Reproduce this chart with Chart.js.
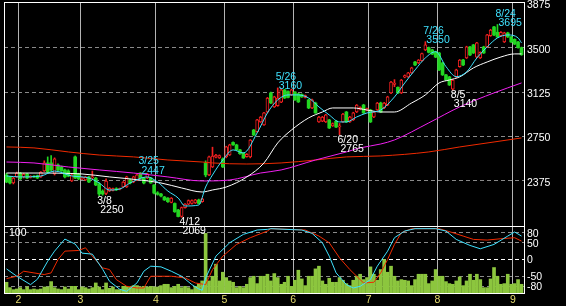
<!DOCTYPE html>
<html>
<head>
<meta charset="utf-8">
<script src="https://cdn.jsdelivr.net/npm/chart.js@4.4.1/dist/chart.umd.min.js"></script>
<style>
  html, body { margin: 0; padding: 0; background: #000; }
  #wrap { position: relative; width: 566px; height: 306px; overflow: hidden; background: #000; }
  #priceChart { position: absolute; left: 0; top: 0; z-index: 2; }
  #oscChart { position: absolute; left: 0; top: 226px; z-index: 1; }
</style>
</head>
<body>
<div id="wrap">
  <canvas id="priceChart" width="566" height="240"></canvas>
  <canvas id="oscChart" width="566" height="80"></canvas>
</div>
<script>
// month labels and the trading-day index where each month starts
const months = ['2', '3', '4', '5', '6', '7', '8', '9'];
const monthStart = [4, 22, 44, 64, 84, 106, 126, 148];
const priceTicks = [2375, 2750, 3125, 3500, 3875];
const oscTicks = [80, 50, 0, -50, -80];

// daily candles [open, high, low, close]
const candles = [
  [2426, 2440, 2360, 2366], [2409, 2415, 2350, 2358], [2358, 2405, 2350, 2400], [2409, 2450, 2405, 2442],
  [2442, 2448, 2388, 2392], [2409, 2440, 2400, 2434], [2434, 2440, 2395, 2400], [2405, 2420, 2400, 2415],
  [2415, 2420, 2405, 2410], [2420, 2425, 2395, 2400], [2409, 2455, 2405, 2451], [2459, 2545, 2455, 2527],
  [2527, 2578, 2440, 2451], [2527, 2590, 2460, 2468], [2434, 2570, 2425, 2561], [2510, 2520, 2460, 2468],
  [2493, 2500, 2455, 2459], [2468, 2475, 2400, 2409], [2460, 2470, 2410, 2415], [2375, 2430, 2370, 2426],
  [2578, 2586, 2395, 2400], [2434, 2440, 2385, 2392], [2392, 2410, 2385, 2405], [2383, 2415, 2378, 2409],
  [2409, 2415, 2360, 2366], [2400, 2459, 2392, 2410], [2400, 2405, 2335, 2341], [2350, 2360, 2250, 2265],
  [2290, 2300, 2255, 2265], [2270, 2392, 2260, 2375], [2290, 2320, 2285, 2316], [2295, 2315, 2290, 2310],
  [2310, 2318, 2295, 2300], [2305, 2315, 2300, 2310], [2324, 2370, 2320, 2366], [2324, 2415, 2320, 2409],
  [2383, 2390, 2350, 2358], [2366, 2415, 2360, 2409], [2383, 2430, 2378, 2426], [2442, 2447, 2395, 2400],
  [2400, 2405, 2350, 2358], [2400, 2440, 2395, 2435], [2400, 2405, 2355, 2358], [2341, 2345, 2265, 2273],
  [2275, 2285, 2255, 2262], [2265, 2270, 2240, 2248], [2240, 2245, 2210, 2215], [2230, 2235, 2195, 2200],
  [2195, 2235, 2190, 2231], [2185, 2190, 2110, 2115], [2130, 2135, 2072, 2075], [2075, 2155, 2069, 2150],
  [2150, 2185, 2145, 2180], [2180, 2215, 2175, 2210], [2185, 2215, 2180, 2210], [2190, 2220, 2185, 2215],
  [2215, 2222, 2180, 2185], [2200, 2230, 2195, 2225], [2527, 2545, 2410, 2426], [2426, 2585, 2420, 2578],
  [2493, 2660, 2488, 2586], [2575, 2600, 2570, 2594], [2570, 2595, 2565, 2590], [2561, 2570, 2488, 2493],
  [2578, 2668, 2570, 2662], [2594, 2685, 2590, 2679], [2700, 2705, 2675, 2680], [2679, 2685, 2632, 2637],
  [2637, 2642, 2600, 2605], [2611, 2615, 2565, 2569], [2580, 2605, 2575, 2600], [2578, 2725, 2570, 2721],
  [2805, 2810, 2758, 2763], [2790, 2895, 2785, 2890], [2873, 2920, 2868, 2915], [2848, 2955, 2843, 2949],
  [2957, 3080, 2950, 3075], [3118, 3125, 3028, 3033], [3000, 3090, 2995, 3084], [3010, 3160, 3005, 3075],
  [3040, 3150, 3035, 3143], [3143, 3148, 3070, 3075], [3130, 3135, 3075, 3080], [3100, 3150, 3095, 3143],
  [3126, 3130, 3055, 3059], [3110, 3115, 3037, 3042], [3105, 3110, 3080, 3084], [3080, 3100, 3075, 3095],
  [3059, 3065, 2985, 2991], [2991, 3065, 2985, 3059], [3033, 3040, 2945, 2949], [2873, 2920, 2868, 2915],
  [2880, 2920, 2875, 2915], [2873, 2937, 2868, 2932], [2890, 2895, 2817, 2822], [2840, 2865, 2835, 2860],
  [2880, 2885, 2825, 2830], [2830, 2860, 2765, 2840], [2873, 2945, 2868, 2940], [2957, 2962, 2868, 2873],
  [2873, 2920, 2868, 2915], [2890, 2955, 2885, 2949], [2957, 3020, 2952, 3016], [2980, 3000, 2975, 2995],
  [3016, 3022, 2944, 2949], [2970, 2990, 2965, 2985], [2974, 2980, 2868, 2873], [2915, 2962, 2910, 2957],
  [2974, 3038, 2970, 3033], [3033, 3040, 2952, 2957], [2991, 3038, 2986, 3033], [3016, 3090, 3010, 3084],
  [3118, 3215, 3112, 3210], [3190, 3230, 3170, 3200], [3165, 3170, 3112, 3118], [3118, 3232, 3112, 3227],
  [3250, 3270, 3245, 3265], [3253, 3292, 3248, 3287], [3287, 3335, 3282, 3329], [3379, 3385, 3348, 3354],
  [3370, 3400, 3365, 3396], [3390, 3455, 3385, 3450], [3480, 3550, 3475, 3523], [3500, 3505, 3455, 3460],
  [3481, 3486, 3440, 3445], [3465, 3470, 3415, 3420], [3455, 3460, 3305, 3312], [3371, 3376, 3265, 3270],
  [3270, 3275, 3222, 3227], [3253, 3258, 3180, 3185], [3150, 3232, 3140, 3227], [3253, 3318, 3248, 3312],
  [3340, 3400, 3335, 3396], [3396, 3402, 3348, 3354], [3413, 3512, 3408, 3506], [3506, 3512, 3432, 3438],
  [3523, 3528, 3450, 3455], [3420, 3545, 3415, 3540], [3413, 3465, 3408, 3460], [3506, 3512, 3450, 3455],
  [3506, 3612, 3500, 3607], [3600, 3655, 3595, 3649], [3675, 3680, 3600, 3607], [3630, 3695, 3585, 3590],
  [3600, 3635, 3595, 3630], [3548, 3630, 3543, 3624], [3624, 3630, 3585, 3590], [3590, 3595, 3543, 3548],
  [3570, 3575, 3525, 3530], [3548, 3553, 3495, 3500], [3500, 3505, 3435, 3440]
];

const volumes = [
  16, 8, 5, 6, 8, 5, 9, 5, 6, 5,
  6, 9, 9, 17, 8, 6, 5, 9, 6, 10,
  10, 5, 9, 8, 6, 8, 15, 9, 5, 15,
  7, 9, 5, 5, 10, 10, 9, 11, 11, 9,
  10, 9, 10, 9, 9, 11, 13, 13, 8, 10,
  13, 8, 10, 8, 5, 10, 14, 18, 89, 18,
  25, 43, 18, 31, 23, 18, 16, 8, 10, 8,
  13, 23, 25, 14, 25, 25, 28, 18, 29, 23,
  13, 16, 25, 10, 19, 34, 21, 11, 25, 25,
  36, 40, 18, 13, 22, 16, 16, 23, 19, 14,
  11, 19, 25, 28, 20, 23, 39, 28, 19, 35,
  50, 31, 40, 25, 18, 20, 19, 18, 11, 20,
  28, 28, 28, 14, 18, 35, 25, 25, 17, 14,
  13, 18, 24, 11, 18, 28, 19, 28, 20, 8,
  8, 21, 38, 25, 13, 14, 28, 13, 14, 20, 13
];

// moving averages as [day index, price]
const maShort = [[0,2417],[4,2409],[10,2417],[14,2459],[19,2417],[22,2409],[24,2400],[27,2358],[30,2299],[33,2307],
  [36,2358],[41,2409],[44,2366],[47,2290],[50,2231],[52,2164],[56,2172],[58,2324],[60,2426],[63,2552],[66,2637],
  [69,2611],[73,2780],[76,2949],[79,3059],[82,3101],[85,3101],[88,3075],[91,3000],[94,2932],[97,2873],[99,2873],
  [102,2915],[105,2949],[109,2974],[113,3084],[116,3202],[119,3312],[122,3413],[125,3466],[128,3340],[131,3255],
  [134,3295],[137,3413],[140,3506],[143,3582],[146,3607],[149,3582],[150,3540]];
const maMid = [[0,2442],[8,2442],[22,2434],[30,2409],[39,2383],[45,2358],[51,2316],[57,2282],[60,2299],[64,2324],
  [70,2409],[75,2527],[79,2696],[83,2805],[88,2907],[92,2957],[95,2991],[101,2991],[105,2974],[109,2957],[113,2957],
  [118,3033],[122,3101],[126,3202],[129,3227],[132,3253],[136,3329],[140,3379],[144,3421],[148,3447],[150,3447]];
const maLong = [[0,2535],[8,2527],[18,2493],[27,2468],[37,2442],[47,2409],[57,2375],[65,2383],[74,2442],[80,2468],
  [90,2552],[99,2620],[103,2654],[109,2687],[113,2721],[123,2865],[132,3000],[142,3118],[150,3202]];
const maYear = [[0,2662],[8,2654],[18,2620],[27,2594],[37,2578],[47,2552],[57,2535],[60,2527],[70,2518],[80,2527],
  [90,2552],[99,2578],[109,2586],[123,2620],[132,2662],[142,2704],[150,2738]];

// oscillator lines in the lower panel
const oscFast = [[0,-28],[3,-50],[7,-75],[9,-59],[12,-5],[14,25],[17,61],[20,46],[22,19],[25,16],[28,-29],[30,-65],
  [33,-89],[35,-95],[38,-70],[40,-35],[42,-20],[45,-22],[48,-35],[51,-50],[54,-75],[56,-88],[57,-92],[58,-55],[61,10],
  [65,50],[69,75],[73,88],[76,90],[77,92],[86,88],[89,78],[92,50],[94,10],[96,-40],[99,-75],[101,-85],[103,-80],
  [106,-60],[108,-20],[111,25],[113,65],[116,85],[119,92],[125,92],[128,85],[131,60],[135,42],[138,32],[142,45],
  [146,70],[148,82],[150,70]];
const oscSlow = [[0,-57],[3,-50],[5,-35],[8,-40],[11,-45],[13,-40],[15,0],[17,25],[21,27],[23,35],[25,10],[28,-25],
  [30,-30],[32,-60],[35,-80],[38,-85],[40,-85],[42,-50],[48,-50],[52,-55],[55,-70],[58,-75],[60,-30],[63,10],[67,45],
  [71,65],[76,85],[77,92],[87,88],[91,70],[94,50],[97,5],[100,-30],[103,-60],[104,-70],[107,-68],[109,-40],[111,0],
  [113,45],[115,80],[118,92],[126,92],[130,80],[133,70],[136,60],[140,58],[144,62],[148,65],[150,55]];

// marked highs / lows
const markIdx = [27, 39, 51, 79, 97, 122, 130, 143];
const markDate = ['3/8', '3/25', '4/12', '5/26', '6/20', '7/26', '8/5', '8/24'];
const markKind = ['low', 'high', 'low', 'high', 'low', 'high', 'low', 'high'];

const UP = '#f42020', DOWN = '#22d622', CYAN = '#3fe2ff';
const xMin = -0.73, xMax = 150.73;
const font = { family: 'Liberation Sans', size: 10.5 };
Chart.defaults.font.family = 'Liberation Sans';

const toXY = arr => arr.map(p => ({ x: p[0], y: p[1] }));
const isUp = i => candles[i][3] >= candles[i][0];

const frame = {
  id: 'frame',
  afterDatasetsDraw(chart) {
    const { ctx, chartArea: a } = chart;
    ctx.save();
    ctx.strokeStyle = '#fff';
    ctx.lineWidth = 1;
    ctx.strokeRect(Math.round(a.left) + 0.5, Math.round(a.top) + 0.5,
      Math.round(a.width), Math.round(a.height));
    ctx.restore();
  }
};

const marks = {
  id: 'marks',
  afterDraw(chart) {
    const { ctx, scales: { x, y } } = chart;
    ctx.save();
    ctx.font = '10.5px "Liberation Sans"';
    ctx.textAlign = 'left';
    ctx.textBaseline = 'alphabetic';
    markIdx.forEach((idx, k) => {
      const c = candles[idx];
      const px = x.getPixelForValue(idx);
      if (markKind[k] === 'high') {
        const py = y.getPixelForValue(c[1]);
        ctx.fillStyle = CYAN;
        ctx.fillText(markDate[k], px - 2, py - 8);
        ctx.fillText(String(c[1]), px + 1, py + 1.5);
      } else {
        const py = y.getPixelForValue(c[2]);
        ctx.fillStyle = '#fff';
        ctx.fillText(markDate[k], px - 2, py + 8);
        ctx.fillText(String(c[2]), px + 1, py + 17);
      }
    });
    ctx.restore();
  }
};

const volLabel = {
  id: 'volLabel',
  afterDraw(chart) {
    const { ctx, chartArea: a } = chart;
    ctx.save();
    ctx.font = '10.5px "Liberation Sans"';
    ctx.fillStyle = '#fff';
    ctx.fillText('100', a.left + 5, a.top + 9.5);
    ctx.restore();
  }
};

const monthTicks = s => { s.ticks = monthStart.map(m => ({ value: m - 0.5 })); };

const lineSet = (data, color, order) => ({
  type: 'line', data: toXY(data), borderColor: color, borderWidth: 1,
  pointRadius: 0, cubicInterpolationMode: 'monotone', order: order
});

new Chart(document.getElementById('priceChart'), {
  type: 'bar',
  data: {
    datasets: [
      lineSet(maShort, CYAN, 0),
      lineSet(maMid, '#ffffff', 0),
      lineSet(maLong, '#f020f0', 0),
      lineSet(maYear, '#f02a00', 0),
      {
        data: candles.map((c, i) => ({ x: i, y: [c[0], c[3]] })),
        barThickness: 3, grouped: false, order: 1,
        backgroundColor: ctx => isUp(ctx.dataIndex) ? '#000' : DOWN,
        borderColor: ctx => isUp(ctx.dataIndex) ? UP : DOWN,
        borderWidth: ctx => isUp(ctx.dataIndex) ? 1 : 0,
        borderSkipped: false
      },
      {
        data: candles.map((c, i) => ({ x: i, y: [c[2], c[1]] })),
        barThickness: 1, grouped: false, order: 2,
        backgroundColor: ctx => isUp(ctx.dataIndex) ? UP : DOWN
      }
    ]
  },
  options: {
    responsive: false, animation: false, devicePixelRatio: 1,
    layout: { padding: { left: 4, top: 2, right: 0, bottom: 14 } },
    plugins: { legend: { display: false }, tooltip: { enabled: false } },
    scales: {
      x: {
        type: 'linear', min: xMin, max: xMax, offset: false,
        grid: { offset: false, color: '#b4b4b4', drawTicks: false },
        border: { display: false },
        ticks: { display: false },
        afterBuildTicks: monthTicks,
        afterFit: s => { s.height = 0; s.paddingLeft = 0; s.paddingRight = 0; }
      },
      y: {
        position: 'right', min: 1995, max: 3885, beginAtZero: false,
        grid: { color: c => c.tick && c.tick.value === 3875 ? 'rgba(0,0,0,0)' : '#8a8a8a', drawTicks: false },
        border: { display: false, dash: [4, 3] },
        ticks: { color: '#fff', font: font, padding: 3, labelOffset: 2, callback: v => String(v) },
        afterBuildTicks: s => { s.ticks = priceTicks.map(v => ({ value: v })); },
        afterFit: s => { s.width = 42; s.paddingTop = 0; s.paddingBottom = 0; }
      }
    }
  },
  plugins: [frame, marks]
});

new Chart(document.getElementById('oscChart'), {
  type: 'bar',
  data: {
    datasets: [
      { type: 'line', data: toXY(oscFast), borderColor: CYAN, borderWidth: 1, pointRadius: 0, order: 0, yAxisID: 'y' },
      { type: 'line', data: toXY(oscSlow), borderColor: '#f02a00', borderWidth: 1, pointRadius: 0, order: 1, yAxisID: 'y' },
      {
        data: volumes.map((v, i) => ({ x: i, y: v })), yAxisID: 'yv',
        backgroundColor: '#8cc63e', barThickness: 3, grouped: false, order: 2
      }
    ]
  },
  options: {
    responsive: false, animation: false, devicePixelRatio: 1,
    layout: { padding: { left: 4, top: 0, right: 0, bottom: 0 } },
    plugins: { legend: { display: false }, tooltip: { enabled: false } },
    scales: {
      x: {
        type: 'linear', min: xMin, max: xMax, offset: false,
        grid: { offset: false, color: '#b4b4b4', drawTicks: false },
        border: { display: false },
        ticks: { color: '#e6dc6e', font: font, padding: 1, maxRotation: 0, autoSkip: false,
                 callback: (v, i) => months[i] },
        afterBuildTicks: monthTicks,
        afterFit: s => { s.height = 13; s.paddingLeft = 0; s.paddingRight = 0; }
      },
      y: {
        position: 'right', min: -100, max: 100,
        grid: { color: c => c.tick && c.tick.value === 0 ? '#ffffff' : '#8a8a8a', drawTicks: false },
        border: { display: false, dash: [4, 3] },
        ticks: { color: '#fff', font: font, padding: 3, labelOffset: 1, callback: v => String(v) },
        afterBuildTicks: s => { s.ticks = oscTicks.map(v => ({ value: v })); },
        afterFit: s => { s.width = 42; s.paddingTop = 0; s.paddingBottom = 0; }
      },
      yv: { display: false, min: 0, max: 100 }
    }
  },
  plugins: [frame, volLabel]
});
</script>
</body>
</html>
